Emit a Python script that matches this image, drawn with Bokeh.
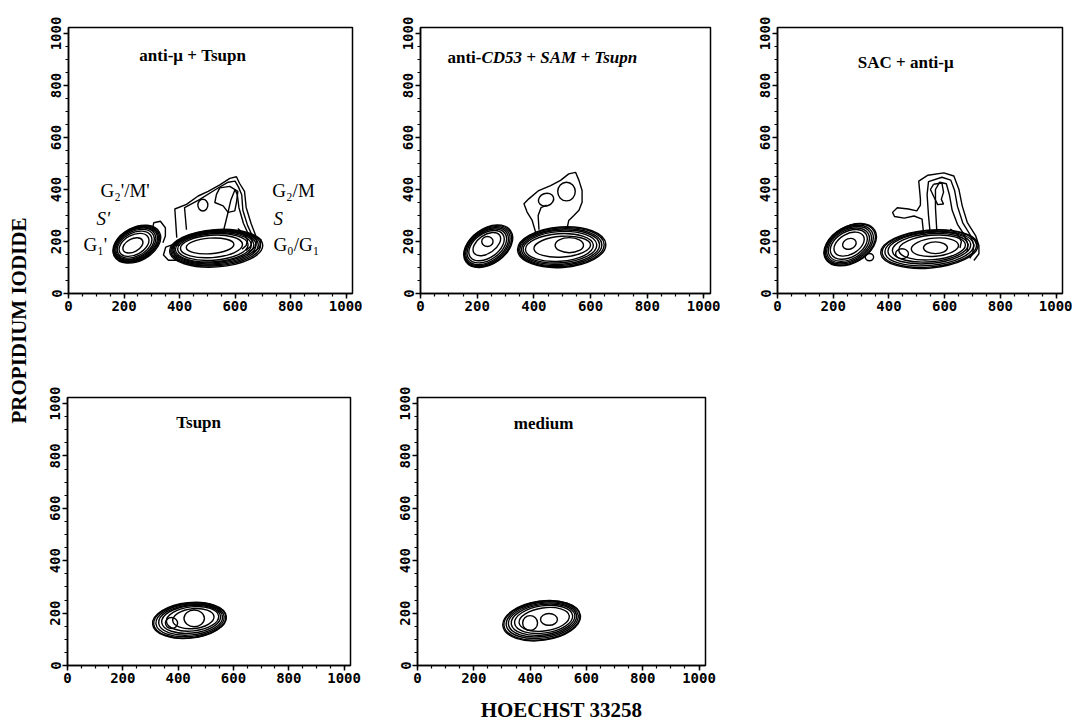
import math
from bokeh.plotting import figure
from bokeh.layouts import row, column
from bokeh.models import Range1d, SingleIntervalTicker, Label
from bokeh.embed import file_html
from bokeh.resources import INLINE

AXIS_MAX = 1023
MAJOR_TICK = 200
X_LABEL = "HOECHST 33258"
Y_LABEL = "PROPIDIUM IODIDE"

# ---------------- titles ----------------
title_p1 = "anti-μ + Tsupn"
title_p2_plain = "anti-"
title_p2_italic = "CD53 + SAM + Tsupn"
title_p3 = "SAC + anti-μ"
title_p4 = "Tsupn"
title_p5 = "medium"

# phase annotations of panel 1
phase_text = ["G₂'/M'", "S'", "G₁'", "G₂/M", "S", "G₀/G₁"]
phase_x = [115, 101, 54, 734, 738, 738]
phase_y = [398, 288, 190, 398, 288, 190]
phase_italic = [False, True, False, False, True, False]

# ---------------- panel 1 : anti-mu + Tsupn ----------------
p1_ell_x = [246, 245, 244, 243, 241, 240, 238, 236, 232,
            532, 530, 528, 526, 524, 522, 520, 515, 510, 484]
p1_ell_y = [190, 190, 190, 190, 190, 189, 188, 187, 185,
            174, 175, 176, 177, 178, 178, 179, 181, 183, 340]
p1_ell_w = [184, 178, 172, 166, 158, 148, 134, 116, 78,
            336, 324, 312, 300, 288, 274, 254, 224, 172, 36]
p1_ell_h = [128, 123, 118, 114, 108, 100, 90, 76, 50,
            144, 137, 131, 125, 119, 112, 102, 86, 60, 45]
p1_ell_a = [28, 28, 28, 28, 28, 28, 28, 28, 28,
            4, 4, 4, 4, 4, 4, 4, 4, 4, 0]
p1_lines_x = [
    [301, 307, 331, 349, 349, 340],
    [400, 360, 342, 350, 380, 400],
    [390, 383, 425, 467, 503, 545, 581, 605, 616, 634, 640, 658, 676, 694, 688, 663],
    [425, 418, 470, 530, 575, 600, 612, 624, 628, 645, 662, 678, 672, 650],
    [560, 572, 585, 600, 608, 614, 630, 648, 662, 656, 640],
    [610, 630, 645, 640, 625],
    [545, 581, 610, 605, 599, 575, 557, 527, 533, 545],
]
p1_lines_y = [
    [240, 272, 278, 253, 221, 195],
    [128, 128, 148, 178, 190, 185],
    [215, 325, 343, 375, 393, 418, 443, 449, 424, 393, 331, 268, 218, 206, 176, 157],
    [245, 330, 360, 400, 428, 432, 410, 380, 320, 262, 222, 204, 178, 160],
    [248, 300, 360, 400, 380, 330, 270, 228, 204, 182, 165],
    [250, 232, 205, 185, 170],
    [406, 412, 393, 350, 318, 312, 337, 350, 381, 406],
]

# ---------------- panel 2 : anti-CD53 + SAM + Tsupn ----------------
p2_ell_x = [239, 238, 236, 235, 234, 233, 234, 236,
            498, 497, 495, 494, 492, 490, 500, 525, 443, 515]
p2_ell_y = [182, 182, 182, 182, 183, 184, 190, 200,
            178, 178, 178, 178, 178, 177, 180, 186, 361, 392]
p2_ell_w = [192, 186, 178, 168, 156, 140, 110, 40,
            312, 302, 290, 276, 260, 240, 200, 100, 55, 62]
p2_ell_h = [136, 131, 124, 116, 106, 94, 70, 38,
            156, 149, 140, 131, 120, 106, 80, 58, 48, 72]
p2_ell_a = [35, 35, 35, 35, 35, 35, 35, 0,
            4, 4, 4, 4, 4, 4, 4, 0, 20, 0]
p2_lines_x = [
    [406, 394, 376, 365, 382, 417, 459, 494, 523, 547, 559, 570, 570, 559, 541, 523, 518],
    [418, 415, 425, 445],
]
p2_lines_y = [
    [236, 281, 313, 345, 364, 396, 415, 435, 460, 466, 435, 396, 351, 320, 300, 281, 255],
    [245, 300, 330, 340],
]

# ---------------- panel 3 : SAC + anti-mu ----------------
p3_ell_x = [261, 260, 258, 257, 256, 256, 257, 258, 330,
            545, 545, 545, 545, 548, 555, 565, 567, 447]
p3_ell_y = [188, 188, 188, 188, 188, 189, 190, 191, 140,
            171, 172, 173, 175, 176, 177, 178, 176, 153]
p3_ell_w = [204, 198, 186, 174, 160, 144, 118, 50, 30,
            350, 340, 320, 298, 272, 240, 170, 86, 46]
p3_ell_h = [140, 136, 128, 120, 110, 98, 78, 40, 28,
            146, 140, 130, 120, 108, 94, 70, 45, 38]
p3_ell_a = [30, 30, 30, 30, 30, 30, 30, 20, 0,
            5, 5, 5, 5, 5, 5, 5, 0, 0]
p3_lines_x = [
    [525, 519, 490, 455, 420, 413, 430, 470, 500, 513, 513, 507, 540, 597, 633, 651, 663, 681, 711, 723, 723, 705],
    [548, 542, 537, 542, 590, 622, 636, 646, 665, 692, 705, 700, 690],
    [572, 567, 567, 582, 606, 617, 627, 646, 670, 684, 680],
    [620, 645, 660, 655],
    [560, 590, 596, 588, 596, 575, 562, 549, 560],
]
p3_lines_y = [
    [223, 286, 298, 290, 296, 312, 330, 325, 318, 340, 363, 432, 455, 464, 452, 401, 337, 274, 223, 184, 153, 127],
    [232, 300, 380, 430, 447, 436, 395, 335, 272, 225, 186, 152, 135],
    [238, 330, 400, 428, 422, 380, 320, 266, 226, 188, 160],
    [248, 230, 200, 175],
    [420, 425, 390, 362, 344, 342, 370, 400, 420],
]

# ---------------- panel 4 : Tsupn ----------------
p4_ell_x = [441, 442, 443, 445, 447, 452, 455, 458, 376]
p4_ell_y = [172, 172, 173, 174, 176, 178, 179, 180, 162]
p4_ell_w = [268, 262, 248, 232, 214, 190, 150, 74, 44]
p4_ell_h = [136, 132, 124, 115, 105, 92, 76, 64, 42]
p4_ell_a = [6, 6, 6, 6, 6, 6, 6, 0, 0]

# ---------------- panel 5 : medium ----------------
p5_ell_x = [441, 442, 443, 444, 446, 448, 450, 400, 467]
p5_ell_y = [171, 172, 173, 174, 175, 176, 176, 162, 176]
p5_ell_w = [278, 272, 258, 244, 228, 208, 180, 53, 60]
p5_ell_h = [150, 146, 136, 126, 116, 104, 88, 57, 45]
p5_ell_a = [8, 8, 8, 8, 8, 8, 8, 0, 0]

SERIF = "Liberation Serif"
MONO = "DejaVu Sans Mono"


def make_panel(w, h, lb, rb, tb, bb, ex, ey, ew, eh, ea, lx=None, ly=None):
    p = figure(width=w, height=h, x_range=Range1d(0, AXIS_MAX), y_range=Range1d(0, AXIS_MAX),
               min_border_left=lb, min_border_right=rb, min_border_top=tb, min_border_bottom=bb,
               toolbar_location=None, output_backend="svg",
               background_fill_color="white", border_fill_color="white")
    p.xgrid.visible = False
    p.ygrid.visible = False
    p.outline_line_color = "black"
    p.outline_line_width = 1.5
    for ax in (p.xaxis[0], p.yaxis[0]):
        ax.ticker = SingleIntervalTicker(interval=MAJOR_TICK, num_minor_ticks=4)
        ax.axis_line_width = 1.5
        ax.axis_line_color = "black"
        ax.major_tick_line_width = 1.5
        ax.major_tick_line_color = "black"
        ax.minor_tick_line_width = 1.2
        ax.minor_tick_line_color = "black"
        ax.major_tick_out = 5
        ax.major_tick_in = 0
        ax.minor_tick_out = 3
        ax.minor_tick_in = 0
        ax.major_label_text_font = MONO
        ax.major_label_text_font_size = "14px"
        ax.major_label_text_font_style = "bold"
        ax.major_label_text_color = "black"
        ax.major_label_standoff = 2
    p.yaxis[0].major_label_orientation = "vertical"
    p.ellipse(x=ex, y=ey, width=ew, height=eh, angle=ea, angle_units="deg",
              fill_color=None, line_color="black", line_width=1.4)
    if lx is not None:
        p.multi_line(xs=lx, ys=ly, line_color="black", line_width=1.4)
    return p


def title(p, text, x, y, style="bold", align="center"):
    p.add_layout(Label(x=x, y=y, text=text, text_font=SERIF, text_font_size="17px",
                       text_font_style=style, text_align=align, text_baseline="middle",
                       text_color="black"))


# row 1 (page y 0-334)
f1 = make_panel(324, 334, 30, 10, 25, 39, p1_ell_x, p1_ell_y, p1_ell_w, p1_ell_h, p1_ell_a, p1_lines_x, p1_lines_y)
f2 = make_panel(358, 334, 58, 10, 27, 41, p2_ell_x, p2_ell_y, p2_ell_w, p2_ell_h, p2_ell_a, p2_lines_x, p2_lines_y)
f3 = make_panel(352, 334, 57, 10, 27, 39, p3_ell_x, p3_ell_y, p3_ell_w, p3_ell_h, p3_ell_a, p3_lines_x, p3_lines_y)
# row 2 (page y 334-725)
f4 = make_panel(324, 391, 29, 12, 63, 60, p4_ell_x, p4_ell_y, p4_ell_w, p4_ell_h, p4_ell_a)
f5 = make_panel(358, 391, 55, 15, 63, 60, p5_ell_x, p5_ell_y, p5_ell_w, p5_ell_h, p5_ell_a)

title(f1, title_p1, 447, 917)
title(f2, title_p2_plain, 215, 908, align="right")
title(f2, title_p2_italic, 215, 908, style="bold italic", align="left")
title(f3, title_p3, 460, 889)
title(f4, title_p4, 474, 927)
title(f5, title_p5, 448, 924)

for t, x, y, it in zip(phase_text, phase_x, phase_y, phase_italic):
    f1.add_layout(Label(x=x, y=y, text=t, text_font=SERIF, text_font_size="19px",
                        text_font_style="italic" if it else "normal",
                        text_align="left", text_baseline="middle", text_color="black"))

f5.xaxis[0].axis_label = X_LABEL
f5.xaxis[0].axis_label_text_font = SERIF
f5.xaxis[0].axis_label_text_font_size = "21px"
f5.xaxis[0].axis_label_text_font_style = "bold"
f5.xaxis[0].axis_label_text_color = "black"
f5.xaxis[0].axis_label_standoff = 12

# y label holder (page x 0-38)
fy = figure(width=38, height=725, x_range=Range1d(0, 38), y_range=Range1d(0, 725),
            min_border=0, toolbar_location=None, output_backend="svg",
            x_axis_type=None, y_axis_type=None, outline_line_color=None,
            background_fill_color="white", border_fill_color="white")
fy.add_layout(Label(x=18, y=405, text=Y_LABEL, angle=math.pi / 2, text_font=SERIF,
                    text_font_size="21px", text_font_style="bold", text_align="center",
                    text_baseline="middle", text_color="black"))

layout = row(fy, column(row(f1, f2, f3), row(f4, f5)))

with open("out.html", "w") as fh:
    fh.write(file_html(layout, INLINE))
